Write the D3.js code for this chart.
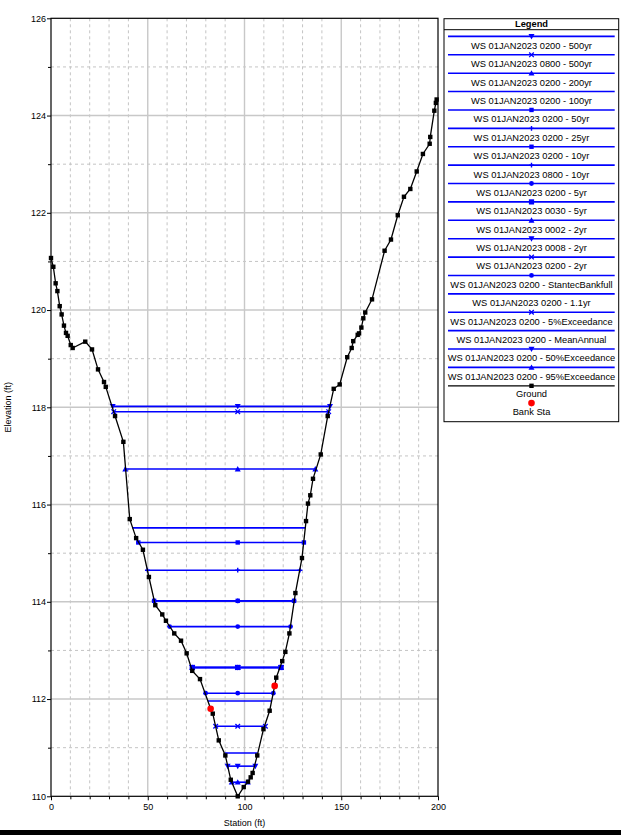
<!DOCTYPE html>
<html>
<head>
<meta charset="utf-8">
<script src="https://cdn.jsdelivr.net/npm/d3@7/dist/d3.min.js"></script>
<style>
  html, body { margin: 0; padding: 0; background: #fff; }
  svg { display: block; }
  text { font-family: "Liberation Sans", Arial, sans-serif; fill: #000; }
</style>
</head>
<body>
<svg id="chart" width="621" height="835"></svg>
<script>
// Ground survey points (station ft, elevation ft)
const groundStation = [0, 1.2, 2.4, 3.3, 4.5, 5.5, 6.7, 7.75, 8.6, 10.2, 11.2, 17.7, 21.2, 24.3, 27.4, 28.3,
  33.1, 37.4, 40.7, 44.0, 47.5, 50.6, 53.9, 57.5, 59.4, 63.7, 67.2, 70.1, 73.0, 77.0, 82.5, 83.6, 86.7,
  90.1, 92.9, 96.5, 99.6, 101.8, 103.2, 104.2, 106.6, 109.8, 113.0, 115.6, 116.4, 119.5, 121.1, 123.2,
  126.3, 129.7, 131.8, 132.8, 134.0, 135.4, 139.4, 143.0, 146.1, 149.2, 153.1, 155.4, 156.2, 158.5,
  159.2, 160.4, 161.4, 162.4, 165.9, 172.4, 175.7, 179.2, 182.4, 185.7, 189.0, 192.2, 195.7, 196.0,
  198.1, 198.9, 199.3];
const groundElev = [121.07, 120.89, 120.55, 120.39, 120.08, 119.91, 119.68, 119.53, 119.47, 119.28, 119.22,
  119.35, 119.19, 118.78, 118.52, 118.42, 117.82, 117.29, 115.70, 115.31, 115.07, 114.51, 113.93, 113.74,
  113.61, 113.35, 113.20, 112.94, 112.58, 112.41, 111.80, 111.70, 111.15, 110.84, 110.34, 110.00, 110.19,
  110.30, 110.39, 110.48, 110.84, 111.38, 111.76, 112.27, 112.44, 112.78, 112.97, 113.35, 114.18, 114.90,
  115.66, 116.02, 116.19, 116.53, 117.03, 117.82, 118.38, 118.47, 119.03, 119.22, 119.36, 119.49, 119.52,
  119.64, 119.83, 119.95, 120.22, 121.22, 121.45, 121.95, 122.33, 122.49, 122.85, 123.21, 123.42, 123.56,
  124.10, 124.26, 124.33];

// Bank stations
const bankStation = [82.5, 115.6];
const bankElev = [111.80, 112.27];

// Water surface profiles
const wsNames = [
  "WS 01JAN2023 0200 - 500yr", "WS 01JAN2023 0800 - 500yr", "WS 01JAN2023 0200 - 200yr",
  "WS 01JAN2023 0200 - 100yr", "WS 01JAN2023 0200 - 50yr", "WS 01JAN2023 0200 - 25yr",
  "WS 01JAN2023 0200 - 10yr", "WS 01JAN2023 0800 - 10yr", "WS 01JAN2023 0200 - 5yr",
  "WS 01JAN2023 0030 - 5yr", "WS 01JAN2023 0002 - 2yr", "WS 01JAN2023 0008 - 2yr",
  "WS 01JAN2023 0200 - 2yr", "WS 01JAN2023 0200 - StantecBankfull", "WS 01JAN2023 0200 - 1.1yr",
  "WS 01JAN2023 0200 - 5%Exceedance", "WS 01JAN2023 0200 - MeanAnnual",
  "WS 01JAN2023 0200 - 50%Exceedance", "WS 01JAN2023 0200 - 95%Exceedance"];
const wsMarkers = ["tridown", "x", "triup", "none", "square", "plus", "square", "plus", "circle",
  "bigsquare", "triup", "tridown", "x", "circle", "none", "x", "none", "tridown", "triup"];
const wsElev = [118.02, 117.91, 116.73, 115.52, 115.22, 114.65, 114.02, 114.02, 113.49,
  112.65, 112.65, 112.65, 112.65, 112.12, 111.96, 111.44, 110.89, 110.62, 110.29];
const wsLeft = [31.9, 32.4, 38.4, 42.0, 45.1, 49.8, 53.3, 53.3, 61.3,
  73.0, 73.0, 73.0, 73.0, 79.9, 81.0, 85.1, 89.9, 91.3, 93.4];
const wsRight = [144.2, 143.5, 136.6, 131.3, 130.7, 128.7, 125.6, 125.6, 123.8,
  118.9, 118.9, 118.9, 118.9, 114.9, 114.0, 110.8, 106.8, 105.6, 101.7];

// Axis ticks
const xMajorTicks = [0, 50, 100, 150, 200];
const xMinorTicks = [10, 20, 30, 40, 60, 70, 80, 90, 110, 120, 130, 140, 160, 170, 180, 190];
const yMajorTicks = [110, 112, 114, 116, 118, 120, 122, 124, 126];
const yMinorTicks = [111, 113, 115, 117, 119, 121, 123, 125];

const WS_COLOR = "#0000ff";
const FONT = "\"Liberation Sans\", Arial, sans-serif";

const svg = d3.select("#chart");
svg.append("rect").attr("width", 621).attr("height", 835).attr("fill", "#fff");

const plotL = 51, plotR = 438, plotT = 18.3, plotB = 796.3;
const x = d3.scaleLinear().domain([0, 200]).range([plotL, plotR]);
const y = d3.scaleLinear().domain([110, 126]).range([plotB, plotT]);

// Grid
const grid = svg.append("g");
grid.selectAll(".vmin").data(xMinorTicks).join("line")
  .attr("x1", d => x(d)).attr("x2", d => x(d)).attr("y1", plotT).attr("y2", plotB)
  .attr("stroke", "#c4c4c4").attr("stroke-dasharray", "3,3").attr("stroke-width", 1);
grid.selectAll(".hmin").data(yMinorTicks).join("line")
  .attr("x1", plotL).attr("x2", plotR).attr("y1", d => y(d)).attr("y2", d => y(d))
  .attr("stroke", "#c4c4c4").attr("stroke-dasharray", "3,3").attr("stroke-width", 1);
grid.selectAll(".vmaj").data(xMajorTicks.slice(1, -1)).join("line")
  .attr("x1", d => x(d)).attr("x2", d => x(d)).attr("y1", plotT).attr("y2", plotB)
  .attr("stroke", "#c8c8c8").attr("stroke-width", 1.4);
grid.selectAll(".hmaj").data(yMajorTicks.slice(1, -1)).join("line")
  .attr("x1", plotL).attr("x2", plotR).attr("y1", d => y(d)).attr("y2", d => y(d))
  .attr("stroke", "#c8c8c8").attr("stroke-width", 1.4);

// Axes
function styleAxis(g) {
  g.select(".domain").remove();
  g.selectAll("line").attr("stroke", "#000");
  g.selectAll("text").attr("font-family", FONT).attr("font-size", "9px").attr("fill", "#000");
}
svg.append("g").attr("transform", `translate(0,${plotB})`)
  .call(d3.axisBottom(x).tickValues(xMajorTicks).tickSize(4).tickPadding(3).tickFormat(d3.format("d")))
  .call(styleAxis);
svg.append("g").attr("transform", `translate(0,${plotB})`)
  .call(d3.axisBottom(x).tickValues(xMinorTicks).tickSize(3).tickFormat(""))
  .call(styleAxis);
svg.append("g").attr("transform", `translate(${plotL},0)`)
  .call(d3.axisLeft(y).tickValues(yMajorTicks).tickSize(4).tickPadding(1).tickFormat(d3.format("d")))
  .call(styleAxis);
svg.append("g").attr("transform", `translate(${plotL},0)`)
  .call(d3.axisLeft(y).tickValues(yMinorTicks).tickSize(3).tickFormat(""))
  .call(styleAxis);

// Plot frame
svg.append("rect").attr("x", plotL).attr("y", plotT).attr("width", plotR - plotL).attr("height", plotB - plotT)
  .attr("fill", "none").attr("stroke", "#000").attr("stroke-width", 1.2);

// Axis titles
svg.append("text").attr("x", (plotL + plotR) / 2).attr("y", 826).attr("text-anchor", "middle")
  .attr("font-size", "9px").text("Station (ft)");
svg.append("text").attr("transform", `translate(11,${(plotT + plotB) / 2}) rotate(-90)`)
  .attr("text-anchor", "middle").attr("font-size", "9px").text("Elevation (ft)");

// Marker symbols
function drawMarker(g, type, cx, cy, color, scale) {
  const s = scale || 1;
  if (type === "none") return;
  if (type === "square") {
    g.append("rect").attr("x", cx - 2.2 * s).attr("y", cy - 2.2 * s).attr("width", 4.4 * s).attr("height", 4.4 * s).attr("fill", color);
  } else if (type === "bigsquare") {
    g.append("rect").attr("x", cx - 2.6 * s).attr("y", cy - 2.6 * s).attr("width", 5.2 * s).attr("height", 5.2 * s).attr("fill", color);
  } else if (type === "circle") {
    g.append("circle").attr("cx", cx).attr("cy", cy).attr("r", 2.4 * s).attr("fill", color);
  } else if (type === "triup") {
    const r = 3 * s;
    g.append("path").attr("d", `M${cx},${cy - r}L${cx + r},${cy + r * 0.8}L${cx - r},${cy + r * 0.8}Z`).attr("fill", color);
  } else if (type === "tridown") {
    const r = 3 * s;
    g.append("path").attr("d", `M${cx},${cy + r}L${cx + r},${cy - r * 0.8}L${cx - r},${cy - r * 0.8}Z`).attr("fill", color);
  } else if (type === "x") {
    const r = 2.3 * s;
    g.append("path").attr("d", `M${cx - r},${cy - r}L${cx + r},${cy + r}M${cx - r},${cy + r}L${cx + r},${cy - r}`)
      .attr("stroke", color).attr("stroke-width", 1.3);
  } else if (type === "plus") {
    const r = 2.4 * s;
    g.append("path").attr("d", `M${cx - r},${cy}L${cx + r},${cy}M${cx},${cy - r}L${cx},${cy + r}`)
      .attr("stroke", color).attr("stroke-width", 1.4);
  }
}

// Thalweg station (lowest ground point)
const thalwegIdx = d3.minIndex(groundElev);
const thalweg = groundStation[thalwegIdx];

// Water surface lines (drawn last-to-first so earlier profiles sit on top)
const wsG = svg.append("g");
for (let i = wsNames.length - 1; i >= 0; i--) {
  const yy = y(wsElev[i]);
  wsG.append("line").attr("x1", x(wsLeft[i])).attr("x2", x(wsRight[i]))
    .attr("y1", yy).attr("y2", yy).attr("stroke", WS_COLOR).attr("stroke-width", 1.6);
  [wsLeft[i], thalweg, wsRight[i]].forEach(s => drawMarker(wsG, wsMarkers[i], x(s), yy, WS_COLOR));
}

// Ground line
const groundPts = groundStation.map((s, i) => [s, groundElev[i]]);
svg.append("path").datum(groundPts)
  .attr("d", d3.line().x(d => x(d[0])).y(d => y(d[1])))
  .attr("fill", "none").attr("stroke", "#000").attr("stroke-width", 1.3);
svg.append("g").selectAll("rect").data(groundPts).join("rect")
  .attr("x", d => x(d[0]) - 2.2).attr("y", d => y(d[1]) - 2.2)
  .attr("width", 4.4).attr("height", 4.4).attr("fill", "#000");

// Bank stations
svg.append("g").selectAll("circle").data(bankStation).join("circle")
  .attr("cx", d => x(d)).attr("cy", (d, i) => y(bankElev[i])).attr("r", 3.3).attr("fill", "#ff0000");

// Legend
const lg = svg.append("g");
const lgL = 444, lgR = 618.7, lgT = 18.7, lgB = 421.7, lgMid = 531.5;
lg.append("rect").attr("x", lgL).attr("y", lgT).attr("width", lgR - lgL).attr("height", lgB - lgT)
  .attr("fill", "#fff").attr("stroke", "#000").attr("stroke-width", 1);
lg.append("line").attr("x1", lgL).attr("x2", lgR).attr("y1", 29.7).attr("y2", 29.7).attr("stroke", "#000").attr("stroke-width", 1);
lg.append("text").attr("x", lgMid).attr("y", 27.4).attr("text-anchor", "middle")
  .attr("font-size", "9.3px").attr("font-weight", "bold").text("Legend");

const rowY0 = 36.4, rowStep = 18.39;
wsNames.forEach((name, i) => {
  const ly = rowY0 + i * rowStep;
  lg.append("line").attr("x1", 448).attr("x2", 614.7).attr("y1", ly).attr("y2", ly)
    .attr("stroke", WS_COLOR).attr("stroke-width", 1.6);
  drawMarker(lg, wsMarkers[i], lgMid, ly, WS_COLOR);
  lg.append("text").attr("x", lgMid).attr("y", ly + 12.4).attr("text-anchor", "middle")
    .attr("font-size", "9.3px").text(name);
});
const gy = rowY0 + wsNames.length * rowStep;
lg.append("line").attr("x1", 448).attr("x2", 614.7).attr("y1", gy).attr("y2", gy)
  .attr("stroke", "#000").attr("stroke-width", 1.3);
lg.append("rect").attr("x", lgMid - 2.2).attr("y", gy - 2.2).attr("width", 4.4).attr("height", 4.4).attr("fill", "#000");
lg.append("text").attr("x", lgMid).attr("y", gy + 11.4).attr("text-anchor", "middle").attr("font-size", "9.3px").text("Ground");
lg.append("circle").attr("cx", lgMid).attr("cy", gy + 17.3).attr("r", 3.3).attr("fill", "#ff0000");
lg.append("text").attr("x", lgMid).attr("y", gy + 29.3).attr("text-anchor", "middle").attr("font-size", "9.3px").text("Bank Sta");

// Bottom rule
svg.append("rect").attr("x", 0).attr("y", 830).attr("width", 621).attr("height", 5).attr("fill", "#000");
</script>
</body>
</html>
